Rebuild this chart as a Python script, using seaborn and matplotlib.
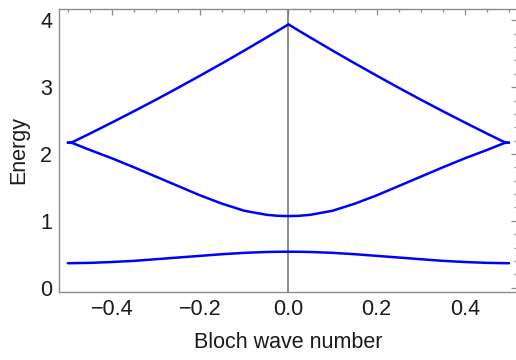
import matplotlib
matplotlib.use("Agg")
import matplotlib.pyplot as plt
from matplotlib.ticker import FixedLocator, MultipleLocator
import seaborn as sns
import pandas as pd

# Bloch wave numbers (sample grid)
k = [-0.5, -0.49, -0.45, -0.4, -0.35, -0.3, -0.25, -0.2, -0.15, -0.1, -0.05, -0.025, 0.0,
     0.025, 0.05, 0.1, 0.15, 0.2, 0.25, 0.3, 0.35, 0.4, 0.45, 0.49, 0.5]

band1 = [0.365, 0.366, 0.370, 0.383, 0.400, 0.425, 0.450, 0.475, 0.500, 0.520, 0.533, 0.536, 0.537,
         0.536, 0.533, 0.520, 0.500, 0.475, 0.450, 0.425, 0.400, 0.383, 0.370, 0.366, 0.365]
band2 = [2.17, 2.165, 2.06, 1.935, 1.80, 1.66, 1.52, 1.38, 1.255, 1.15, 1.09, 1.075, 1.07,
         1.075, 1.09, 1.15, 1.255, 1.38, 1.52, 1.66, 1.80, 1.935, 2.06, 2.165, 2.17]
band3 = [2.17, 2.176, 2.305, 2.471, 2.640, 2.813, 2.991, 3.173, 3.358, 3.548, 3.742, 3.840, 3.94,
         3.840, 3.742, 3.548, 3.358, 3.173, 2.991, 2.813, 2.640, 2.471, 2.305, 2.176, 2.17]

xticks = [-0.4, -0.2, 0.0, 0.2, 0.4]
xtick_labels = ["\u22120.4", "\u22120.2", "0.0", "0.2", "0.4"]
yticks = [0, 1, 2, 3, 4]
ytick_labels = ["0", "1", "2", "3", "4"]

df = pd.concat([
    pd.DataFrame({"k": k, "E": band1, "band": "1"}),
    pd.DataFrame({"k": k, "E": band2, "band": "2"}),
    pd.DataFrame({"k": k, "E": band3, "band": "3"}),
], ignore_index=True)

sns.set_style("white")
plt.rcParams["font.family"] = ["Liberation Sans", "DejaVu Sans"]

fig = plt.figure(figsize=(5.16, 3.60), dpi=100)
ax = fig.add_axes([59 / 516, 1 - 292 / 360, (516.5 - 59) / 516, (292 - 9) / 360])

ax.axvline(0, color="#6e6e6e", lw=1.1, zorder=1)
sns.lineplot(data=df, x="k", y="E", units="band", estimator=None, sort=False,
             color="#0000ff", lw=1.8, ax=ax, legend=False, zorder=3)

ax.set_xlim(-0.52, 0.517)
ax.set_ylim(-0.066, 4.17)

frame_col = "#8c8c8c"
for s in ax.spines.values():
    s.set_color(frame_col)
    s.set_linewidth(1.0)
    s.set_visible(True)

ax.xaxis.set_major_locator(FixedLocator(xticks))
ax.set_xticklabels(xtick_labels)
ax.xaxis.set_minor_locator(MultipleLocator(0.05))
ax.yaxis.set_major_locator(FixedLocator(yticks))
ax.set_yticklabels(ytick_labels)
ax.yaxis.set_minor_locator(MultipleLocator(0.2))

ax.tick_params(which="both", direction="in", top=True, right=True, color=frame_col,
               labelcolor="#1a1a1a", labelsize=15.5, width=0.9)
ax.tick_params(which="major", length=4.0, pad=5)
ax.tick_params(which="minor", length=2.3)

ax.set_xlabel("Bloch wave number", fontsize=15.5, color="#1a1a1a", labelpad=9)
ax.set_ylabel("Energy", fontsize=15.5, color="#1a1a1a", labelpad=8)

fig.savefig("out.png", dpi=100)
